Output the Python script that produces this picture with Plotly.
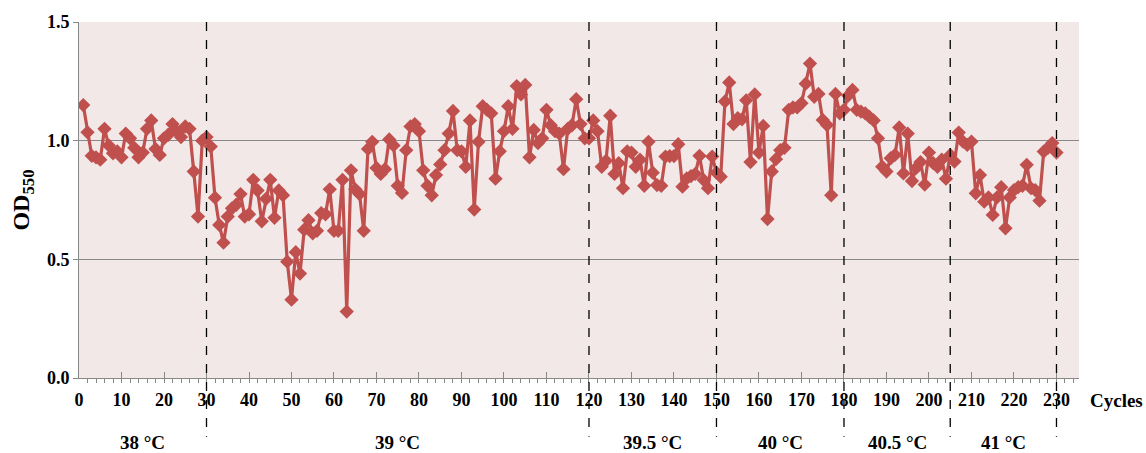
import plotly.graph_objects as go

cycles = list(range(1, 231))
od550 = [
    1.15, 1.035, 0.936, 0.93, 0.92, 1.05, 0.98, 0.947, 0.955, 0.93,
    1.03, 1.01, 0.97, 0.93, 0.95, 1.05, 1.085, 0.965, 0.94, 1.01,
    1.025, 1.07, 1.04, 1.015, 1.06, 1.05, 0.87, 0.68, 1.0, 1.015,
    0.975, 0.76, 0.645, 0.57, 0.68, 0.715, 0.73, 0.775, 0.68, 0.69,
    0.835, 0.79, 0.66, 0.755, 0.835, 0.675, 0.79, 0.77, 0.49, 0.33,
    0.53, 0.44, 0.625, 0.665, 0.61, 0.62, 0.695, 0.69, 0.795, 0.62,
    0.62, 0.835, 0.28, 0.875, 0.795, 0.775, 0.62, 0.965, 0.995, 0.885,
    0.86, 0.88, 1.005, 0.98, 0.81, 0.78, 0.96, 1.06, 1.07, 1.04,
    0.875, 0.81, 0.77, 0.855, 0.9, 0.96, 1.03, 1.125, 0.96, 0.955,
    0.89, 1.085, 0.71, 0.995, 1.145, 1.13, 1.115, 0.84, 0.955, 1.04,
    1.145, 1.05, 1.23, 1.195, 1.235, 0.93, 1.045, 0.99, 1.01, 1.13,
    1.065, 1.04, 1.03, 0.88, 1.05, 1.065, 1.175, 1.07, 1.01, 1.01,
    1.085, 1.04, 0.89, 0.915, 1.105, 0.86, 0.905, 0.80, 0.955, 0.95,
    0.89, 0.92, 0.81, 0.995, 0.865, 0.813, 0.81, 0.933, 0.935, 0.935,
    0.985, 0.806, 0.841, 0.851, 0.86, 0.936, 0.834, 0.8, 0.933, 0.865,
    0.848, 1.165, 1.245, 1.07, 1.095, 1.09, 1.17, 0.91, 1.195, 0.95,
    1.062, 0.67, 0.87, 0.922, 0.96, 0.97, 1.13, 1.14, 1.14, 1.158,
    1.24, 1.325, 1.185, 1.197, 1.087, 1.066, 0.77, 1.197, 1.115, 1.13,
    1.19, 1.214, 1.13, 1.122, 1.115, 1.10, 1.085, 1.01, 0.89, 0.87,
    0.926, 0.94, 1.056, 0.862, 1.03, 0.83, 0.885, 0.91, 0.815, 0.95,
    0.905, 0.89, 0.92, 0.84, 0.94, 0.912, 1.034, 0.996, 0.982, 0.996,
    0.778, 0.855, 0.743, 0.761, 0.687, 0.761, 0.804, 0.631, 0.761, 0.792,
    0.804, 0.81, 0.898, 0.8, 0.792, 0.747, 0.954, 0.97, 0.99, 0.95,
]

boundaries = [30, 120, 150, 180, 205, 230]
temp_labels = ["38 °C", "39 °C", "39.5 °C", "40 °C", "40.5 °C", "41 °C"]
segment_starts = [0, 30, 120, 150, 180, 205]

x_ticks = list(range(0, 231, 10))
y_ticks = [0.0, 0.5, 1.0, 1.5]

RED = "#C0504D"
FONT = "Liberation Serif"

fig = go.Figure()
fig.add_trace(go.Scatter(
    x=cycles, y=od550, mode="lines+markers",
    line=dict(color=RED, width=3.2),
    marker=dict(symbol="diamond", size=11, color=RED),
    showlegend=False,
))

for b in boundaries:
    fig.add_shape(type="line", xref="x", yref="paper", x0=b, x1=b, y0=1, y1=-0.165,
                  line=dict(color="black", width=1.3, dash="dash"))

for s, e, lab in zip(segment_starts, boundaries, temp_labels):
    fig.add_annotation(x=(s + e) / 2, y=-0.182, xref="x", yref="paper", text=f"<b>{lab}</b>",
                       showarrow=False, font=dict(family=FONT, size=19, color="black"),
                       xanchor="center", yanchor="middle")

fig.add_annotation(x=1.0, y=-0.062, xref="paper", yref="paper", text="<b>Cycles</b>",
                   showarrow=False, font=dict(family=FONT, size=19, color="black"),
                   xanchor="left", yanchor="middle", xshift=9)

fig.update_layout(
    width=1146, height=453,
    margin=dict(l=79, r=67, t=22, b=75),
    paper_bgcolor="white",
    plot_bgcolor="#F2E8E8",
    font=dict(family=FONT, color="black"),
    xaxis=dict(
        range=[0, 235.3], tickmode="array", tickvals=x_ticks,
        ticktext=[f"<b>{v}</b>" for v in x_ticks],
        tickfont=dict(family=FONT, size=18),
        showgrid=False, zeroline=False,
        showline=True, linecolor="#888888", linewidth=1,
        ticks="inside", ticklen=6, tickcolor="#888888",
        minor=dict(dtick=2, tick0=0, ticks="outside", ticklen=4, tickcolor="#888888", showgrid=False),
        ticklabelstandoff=5,
    ),
    yaxis=dict(
        range=[0, 1.5], tickmode="array", tickvals=y_ticks,
        ticktext=[f"<b>{v:.1f}</b>" for v in y_ticks],
        tickfont=dict(family=FONT, size=18),
        showgrid=True, gridcolor="#888888", gridwidth=1,
        zeroline=False, showline=True, linecolor="#888888", linewidth=1,
        ticks="outside", ticklen=5, tickcolor="#888888",
        title=dict(text="<b>OD<sub>550</sub></b>", font=dict(family=FONT, size=24), standoff=10),
    ),
)

fig.write_html("out.html")
